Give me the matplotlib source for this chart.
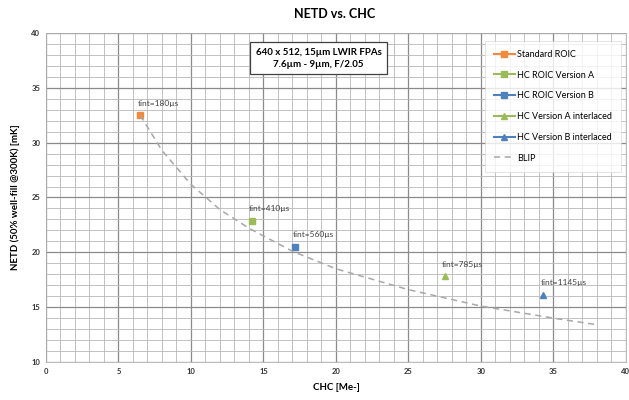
import numpy as np
import matplotlib.pyplot as plt
from matplotlib.ticker import MultipleLocator

plt.rcParams['font.family'] = ['Lato', 'DejaVu Sans']

# data
series_names = ["Standard ROIC", "HC ROIC Version A", "HC ROIC Version B",
                "HC Version A interlaced", "HC Version B interlaced"]
chc = [6.5, 14.2, 17.2, 27.5, 34.3]
netd = [32.5, 22.85, 20.5, 17.8, 16.1]
tint_labels = ["tint=180µs", "tint=410µs", "tint=560µs", "tint=785µs", "tint=1145µs"]
colors = ["#F28A3A", "#9BBB59", "#4F81BD", "#9BBB59", "#4F81BD"]
markers = ["s", "s", "s", "^", "^"]

blip_chc = [6.5, 8, 10, 12, 14, 17, 20, 25, 30, 35, 38]
blip_netd = [32.5, 29.3, 26.2, 23.9, 22.2, 20.1, 18.5, 16.6, 15.1, 14.0, 13.4]

fig = plt.figure(figsize=(6.29, 4.0), dpi=100)
ax = fig.add_axes([0.073, 0.095, 0.922, 0.8225])

ax.set_xlim(0, 40)
ax.set_ylim(10, 40)
ax.xaxis.set_major_locator(MultipleLocator(5))
ax.xaxis.set_minor_locator(MultipleLocator(1))
ax.yaxis.set_major_locator(MultipleLocator(5))
ax.yaxis.set_minor_locator(MultipleLocator(1))
ax.grid(which='major', color='#8a8a8a', linewidth=0.9)
ax.grid(which='minor', color='#b8b8b8', linewidth=0.6)
ax.set_axisbelow(True)
for s in ax.spines.values():
    s.set_color('#b0b0b0')
    s.set_linewidth(0.6)
ax.tick_params(which='both', length=0, labelsize=5.5, colors='#333333', pad=4)
for lb in ax.get_xticklabels() + ax.get_yticklabels():
    lb.set_fontweight('bold')

for i in range(len(chc)):
    ax.plot([chc[i]], [netd[i]], marker=markers[i], color=colors[i],
            markersize=5, linestyle='-', linewidth=1.5, label=series_names[i])
    ax.annotate(tint_labels[i], (chc[i], netd[i]), xytext=(-2, 7),
                textcoords='offset points', fontsize=6, color='#404040')

ax.plot(blip_chc, blip_netd, linestyle=(0, (4, 3)), color='#a8a8a8',
        linewidth=1.1, label="BLIP")

ax.text(18.8, 37.7, "640 x 512, 15µm LWIR FPAs\n7.6µm - 9µm, F/2.05",
        ha='center', va='center', fontsize=7, fontweight='bold', linespacing=1.4,
        bbox=dict(boxstyle='square,pad=0.6', facecolor='white', edgecolor='#404040',
                  linewidth=0.9))

leg = ax.legend(loc='upper right', fontsize=6.5, frameon=True, fancybox=False,
                borderpad=1.0, labelspacing=1.3, handlelength=2.3, markerscale=0.8,
                handletextpad=0.3, bbox_to_anchor=(1.0, 0.99))
leg.get_frame().set_edgecolor('#d0d0d0')
leg.get_frame().set_linewidth(0.5)

ax.set_xlabel("CHC [Me-]", fontsize=7, fontweight='bold', labelpad=6)
ax.set_ylabel("NETD (50% well-fill @300K) [mK]", fontsize=7, fontweight='bold', labelpad=8)
fig.text(0.532, 0.965, "NETD vs. CHC", ha='center', va='center',
         fontsize=9, fontweight='bold')

fig.savefig("out.png", dpi=100)
